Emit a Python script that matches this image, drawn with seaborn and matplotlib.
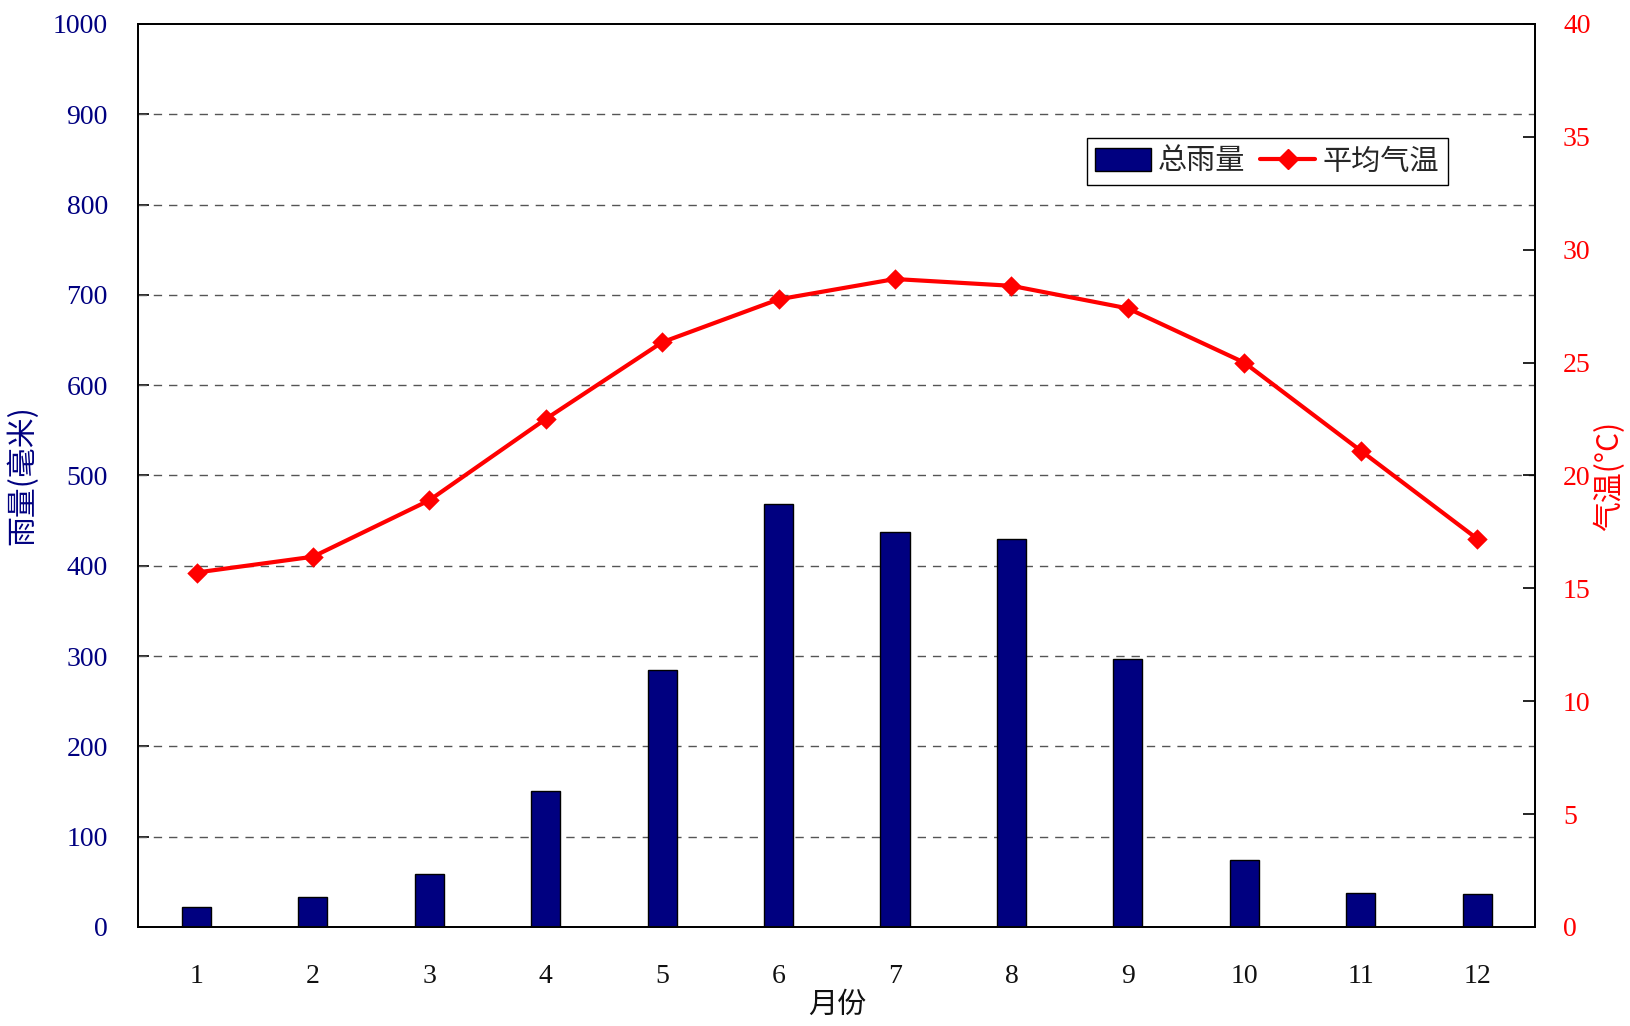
import matplotlib
matplotlib.use("Agg")
import matplotlib.pyplot as plt
from matplotlib.patches import Patch
from matplotlib.lines import Line2D
from matplotlib.ticker import FixedLocator
import seaborn as sns
import pandas as pd
import numpy as np

# Monthly climate data
months = ["1", "2", "3", "4", "5", "6", "7", "8", "9", "10", "11", "12"]
rainfall = [22, 33, 59, 151, 285, 468, 437, 430, 297, 74, 38, 37]
temperature = [15.7, 16.4, 18.9, 22.5, 25.9, 27.8, 28.7, 28.4, 27.4, 25.0, 21.1, 17.2]
rain_ticks = list(range(0, 1001, 100))
temp_ticks = list(range(0, 41, 5))

df = pd.DataFrame({"month": months, "rain": rainfall, "temp": temperature})

sns.set_theme(style="white")
plt.rcParams["font.family"] = ["Liberation Serif", "Noto Sans CJK SC", "DejaVu Sans"]
CJK = ["Noto Sans CJK SC", "DejaVu Sans"]

NAVY = "#000080"
RED = "#FF0000"

fig = plt.figure(figsize=(16.31, 10.26), dpi=100)
ax = fig.add_axes([0.0848, 0.0965, 0.8565, 0.8802])

# Rainfall bars
sns.barplot(data=df, x="month", y="rain", ax=ax, color=NAVY, width=0.25,
            edgecolor="black", linewidth=1.0, saturation=1, zorder=3)

ax.set_ylim(0, 1000)
ax.set_yticks(rain_ticks)
ax.set_xlim(-0.5, 11.5)
ax.grid(False)
for v in rain_ticks[1:-1]:
    ax.axhline(v, color="#555555", linestyle=(0, (6, 5)), linewidth=1.0, zorder=1)

ax.tick_params(axis="y", direction="in", length=8, width=1.2, colors="black",
               labelcolor=NAVY, labelsize=20, pad=22)
ax.tick_params(axis="x", which="major", length=0, labelsize=20, pad=27, labelcolor="#111111")
ax.xaxis.set_minor_locator(FixedLocator(np.arange(0.5, 11.5, 1.0)))
ax.tick_params(axis="x", which="minor", direction="in", length=10, width=1.2, color="#333333")

ax.set_xlabel("月份", fontsize=21, family=CJK, color="#111111", labelpad=0)
ax.set_ylabel("雨量(毫米)", fontsize=21.5, family=CJK, color=NAVY, labelpad=10)

for s in ax.spines.values():
    s.set_color("black")
    s.set_linewidth(1.3)
    s.set_visible(True)

# Temperature line on the secondary axis
ax2 = ax.twinx()
sns.pointplot(data=df, x="month", y="temp", ax=ax2, color=RED, markers="D",
              markersize=8, linewidth=3.0, errorbar=None, zorder=5)
ax2.set_xlim(-0.5, 11.5)
ax2.set_ylim(0, 40)
ax2.set_yticks(temp_ticks)
ax2.tick_params(axis="y", direction="in", length=9, width=1.2, colors="black",
                labelcolor=RED, labelsize=20, pad=20)
ax2.set_ylabel("气温(°C)", fontsize=21.5, family=CJK, color=RED, rotation=90, labelpad=2)
ax2.set_xlabel("")
for s in ax2.spines.values():
    s.set_color("black")
    s.set_linewidth(1.3)

handles = [
    Patch(facecolor=NAVY, edgecolor="black", linewidth=1.0),
    Line2D([0], [0], color=RED, linewidth=3.0, marker="D", markersize=10),
]
leg = ax2.legend(handles, ["总雨量", "平均气温"], ncol=2, loc="upper right",
                 bbox_to_anchor=(0.9375, 0.874), frameon=True, fancybox=False,
                 edgecolor="black", framealpha=1, borderpad=0.3, handlelength=1.9,
                 handleheight=0.85, handletextpad=0.25, columnspacing=0.5,
                 borderaxespad=0, prop={"family": CJK, "size": 21}, numpoints=1)
leg.get_frame().set_linewidth(1.0)

fig.savefig("out.png", dpi=100)
